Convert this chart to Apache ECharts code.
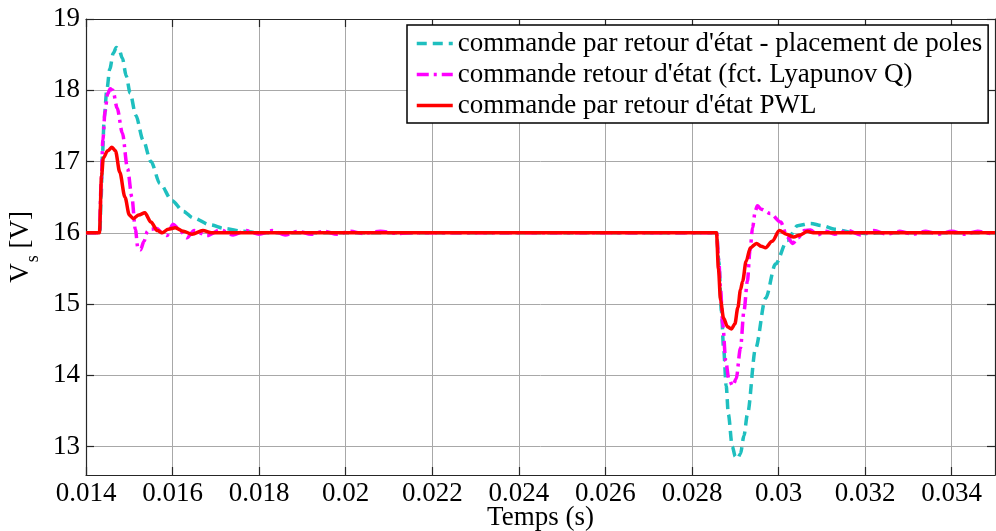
<!DOCTYPE html>
<html>
<head>
<meta charset="utf-8">
<script src="https://cdn.jsdelivr.net/npm/echarts@6/dist/echarts.min.js"></script>
<style>
  html, body { margin: 0; padding: 0; background: #fff; }
  #chart { width: 996px; height: 531px; }
</style>
</head>
<body>
<div id="chart"></div>
<script>
// Series names
const seriesNames = [
  "commande par retour d'état - placement de poles",
  "commande retour d'état (fct. Lyapunov Q)",
  "commande par retour d'état PWL"
];

// Axis ticks
const xTicks = [0.014, 0.016, 0.018, 0.02, 0.022, 0.024, 0.026, 0.028, 0.03, 0.032, 0.034];
const yTicks = [13, 14, 15, 16, 17, 18, 19];

// Pole-placement state feedback (cyan dashed)
const tPoles = [0.014, 0.01432, 0.01435, 0.01438, 0.01442, 0.01448, 0.01455, 0.01463, 0.0147, 0.01476,
  0.01484, 0.01493, 0.01502, 0.01515, 0.01532, 0.0155, 0.01571, 0.01599, 0.01625, 0.01647,
  0.01687, 0.0172, 0.01763, 0.018, 0.0185, 0.028566, 0.02862, 0.02868, 0.02873, 0.02879,
  0.02884, 0.02893, 0.029, 0.02905, 0.02912, 0.0292, 0.02928, 0.02947, 0.0297, 0.02993,
  0.0302, 0.03044, 0.03074, 0.031, 0.0313, 0.03173, 0.032, 0.0325, 0.035];
const vPoles = [16, 16, 16.5, 17.1, 17.6, 18.0, 18.3, 18.52, 18.6, 18.58,
  18.45, 18.2, 17.96, 17.65, 17.3, 17.0, 16.69, 16.45, 16.3, 16.21,
  16.11, 16.06, 16.02, 16.0, 16.0, 16.0, 15.6, 14.9, 14.38, 13.85,
  13.45, 13.0, 12.86, 12.83, 12.9, 13.15, 13.45, 14.38, 15.08, 15.56,
  15.89, 16.1, 16.13, 16.1, 16.05, 16.0, 15.99, 16.0, 16.0];

// Lyapunov-Q state feedback (magenta dash-dot)
const tLyap = [0.014, 0.01431, 0.01435, 0.01439, 0.01444, 0.0145, 0.01456, 0.01462, 0.01472, 0.01484,
  0.01496, 0.01506, 0.01514, 0.0152, 0.01526, 0.01534, 0.01542, 0.01552, 0.01564, 0.01575,
  0.01587, 0.01601, 0.01615, 0.01633, 0.0165, 0.0168, 0.0171, 0.0174, 0.0177, 0.018,
  0.0183, 0.0186, 0.0189, 0.0192, 0.0195, 0.0198, 0.0201, 0.0204, 0.0208, 0.0212,
  0.0216, 0.028566, 0.02862, 0.02866, 0.02871, 0.02878, 0.02885, 0.02894, 0.02902, 0.02912,
  0.0292, 0.02928, 0.02934, 0.0294, 0.02946, 0.02951, 0.0296, 0.02981, 0.03005, 0.0302,
  0.03033, 0.03045, 0.0306, 0.03074, 0.0309, 0.0311, 0.0313, 0.0316, 0.0319, 0.0322,
  0.0325, 0.0328, 0.0331, 0.0334, 0.0337, 0.034, 0.0343, 0.0346, 0.0349, 0.035];
const vLyap = [16, 16, 16.7, 17.3, 17.7, 17.95, 18.02, 18.0, 17.75, 17.4,
  16.9, 16.5, 16.05, 15.78, 15.76, 15.88, 16.02, 16.05, 16.06, 16.0,
  15.96, 16.12, 16.05, 15.93, 16.03, 15.96, 16.04, 15.97, 16.03, 15.98,
  16.03, 15.97, 16.02, 15.98, 16.02, 15.98, 16.02, 15.99, 16.02, 15.99,
  16.0, 16.0, 15.6, 15.2, 14.72, 14.2, 13.95, 13.85, 13.95, 14.38,
  14.9, 15.32, 15.75, 16.07, 16.3, 16.38, 16.33, 16.27, 16.15, 15.94,
  15.85, 15.93, 16.03, 16.04, 15.97, 16.02, 15.98, 16.03, 15.97, 16.03,
  15.98, 16.02, 15.98, 16.02, 15.98, 16.02, 15.98, 16.02, 15.99, 16.0];

// PWL state feedback (red solid)
const tPwl = [0.014, 0.01431, 0.01436, 0.0144, 0.0145, 0.0146, 0.01468, 0.01478, 0.0149, 0.015,
  0.01509, 0.01522, 0.01536, 0.0155, 0.01565, 0.01576, 0.0159, 0.01606, 0.01625, 0.01645,
  0.0167, 0.0169, 0.028566, 0.02861, 0.02866, 0.02873, 0.02882, 0.02891, 0.02899, 0.02906,
  0.02912, 0.02917, 0.02925, 0.02935, 0.02949, 0.0296, 0.0297, 0.02985, 0.03002, 0.03018,
  0.03035, 0.0305, 0.03067, 0.0308, 0.035];
const vPwl = [16, 16, 16.8, 17.05, 17.15, 17.2, 17.15, 16.85, 16.5, 16.25,
  16.2, 16.25, 16.28, 16.15, 16.03, 16.0, 16.05, 16.07, 16.02, 15.98,
  16.03, 16.0, 16.0, 15.5, 15.05, 14.8, 14.68, 14.65, 14.72, 14.95,
  15.2, 15.32, 15.6, 15.79, 15.85, 15.81, 15.79, 15.88, 16.03, 15.98,
  15.94, 15.97, 16.02, 16.0, 16.0];

const pairs = (ts, vs) => ts.map((t, i) => [t, vs[i]]);

const FONT = "'Liberation Serif', 'Times New Roman', serif";
const FS = 27;
const axisLineStyle = { color: '#262626', width: 1.2 };

const chart = echarts.init(document.getElementById('chart'), null, { renderer: 'canvas' });

chart.setOption({
  animation: false,
  backgroundColor: '#fff',
  grid: { left: 86, right: 1, top: 19, bottom: 56, containLabel: false, outerBoundsMode: 'none' },
  legend: {
    orient: 'vertical',
    left: 407,
    top: 25,
    padding: [5, 6, 4, 8],
    itemWidth: 36,
    itemHeight: 14,
    itemGap: 4,
    backgroundColor: '#fff',
    borderColor: '#000',
    borderWidth: 1.5,
    borderRadius: 0,
    itemStyle: { opacity: 0 },
    lineStyle: { width: 3.5 },
    textStyle: { fontFamily: FONT, fontSize: FS, color: '#000', lineHeight: 26 },
    data: seriesNames
  },
  xAxis: [{
    type: 'value',
    min: 0.014,
    max: 0.035,
    name: 'Temps (s)',
    nameLocation: 'middle',
    nameGap: 29,
    nameMoveOverlap: false,
    nameTextStyle: { fontFamily: FONT, fontSize: FS, color: '#000', lineHeight: 27 },
    axisLine: { lineStyle: axisLineStyle },
    axisTick: { inside: true, length: 8, customValues: xTicks, lineStyle: axisLineStyle },
    axisLabel: { customValues: xTicks, margin: 5, fontFamily: FONT, fontSize: FS, color: '#000',
      formatter: v => String(v) },
    splitLine: { show: true, lineStyle: { color: '#a8a8a8', width: 1 } }
  }, {
    type: 'value',
    position: 'top',
    min: 0.014,
    max: 0.035,
    axisLine: { show: true, lineStyle: axisLineStyle },
    axisTick: { inside: true, length: 8, customValues: xTicks, lineStyle: axisLineStyle },
    axisLabel: { show: false },
    splitLine: { show: false }
  }],
  yAxis: [{
    type: 'value',
    min: 12.6,
    max: 19,
    name: '{v|V}{s|s}{v| [V]}',
    nameLocation: 'middle',
    nameRotate: 90,
    nameGap: 48,
    nameTextStyle: {
      fontFamily: FONT, color: '#000',
      rich: {
        v: { fontFamily: FONT, fontSize: FS, lineHeight: 27, verticalAlign: 'top', color: '#000' },
        s: { fontFamily: FONT, fontSize: 18, lineHeight: 18, padding: [17, 0, 0, 1], verticalAlign: 'top', color: '#000' }
      }
    },
    axisLine: { show: true, lineStyle: axisLineStyle },
    axisTick: { show: true, inside: true, length: 8, customValues: yTicks, lineStyle: axisLineStyle },
    axisLabel: { customValues: yTicks, margin: 6, fontFamily: FONT, fontSize: FS, color: '#000' },
    splitLine: { show: true, lineStyle: { color: '#a8a8a8', width: 1 } }
  }, {
    type: 'value',
    position: 'right',
    min: 12.6,
    max: 19,
    axisLine: { show: true, lineStyle: axisLineStyle },
    axisTick: { show: true, inside: true, length: 8, customValues: yTicks, lineStyle: axisLineStyle },
    axisLabel: { show: false },
    splitLine: { show: false }
  }],
  series: [{
    name: seriesNames[0],
    type: 'line',
    xAxisIndex: 0, yAxisIndex: 0,
    data: pairs(tPoles, vPoles),
    showSymbol: false, symbol: 'none',
    smooth: 0.3, smoothMonotone: 'x',
    lineStyle: { color: '#1fbfbf', width: 3.5, type: [10, 6] },
    itemStyle: { color: '#1fbfbf' },
    z: 2
  }, {
    name: seriesNames[1],
    type: 'line',
    xAxisIndex: 0, yAxisIndex: 0,
    data: pairs(tLyap, vLyap),
    showSymbol: false, symbol: 'none',
    smooth: 0.3, smoothMonotone: 'x',
    lineStyle: { color: '#ff00ff', width: 3.5, type: [12, 5, 3, 5] },
    itemStyle: { color: '#ff00ff' },
    z: 3
  }, {
    name: seriesNames[2],
    type: 'line',
    xAxisIndex: 0, yAxisIndex: 0,
    data: pairs(tPwl, vPwl),
    showSymbol: false, symbol: 'none',
    smooth: 0.3, smoothMonotone: 'x',
    lineStyle: { color: '#ff0000', width: 3.5 },
    itemStyle: { color: '#ff0000' },
    z: 4
  }]
});
</script>
</body>
</html>
